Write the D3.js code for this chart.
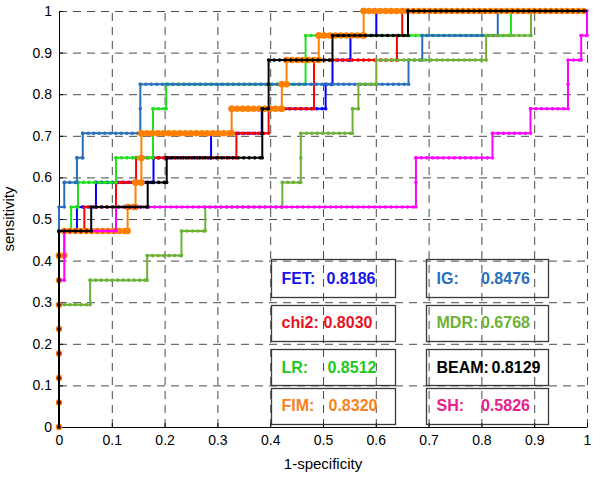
<!DOCTYPE html>
<html><head><meta charset="utf-8">
<script src="https://cdn.jsdelivr.net/npm/d3@7"></script>
<style>body{margin:0;background:#fff}</style>
</head><body><svg id="c" width="600" height="477"></svg>
<script>
// ---------- data ----------
const methods = ["FET", "IG", "chi2", "MDR", "LR", "BEAM", "FIM", "SH"];
const aucValues = ["0.8186", "0.8476", "0.8030", "0.6768", "0.8512", "0.8129", "0.8320", "0.5826"];

const fetFpr = [0, 0, 0.034, 0.034, 0.07, 0.07, 0.179, 0.179, 0.288, 0.288, 0.384, 0.384, 0.505, 0.505, 0.518, 0.518, 0.552, 0.552, 0.601, 0.601, 1];
const fetTpr = [0, 0.471, 0.471, 0.529, 0.529, 0.588, 0.588, 0.647, 0.647, 0.706, 0.706, 0.765, 0.765, 0.824, 0.824, 0.882, 0.882, 0.941, 0.941, 1, 1];

const igFpr = [0, 0, 0.01, 0.01, 0.034, 0.034, 0.045, 0.045, 0.154, 0.154, 0.662, 0.662, 0.688, 0.688, 0.831, 0.831, 1];
const igTpr = [0, 0.529, 0.529, 0.588, 0.588, 0.647, 0.647, 0.706, 0.706, 0.824, 0.824, 0.882, 0.882, 0.941, 0.941, 1, 1];

const chi2Fpr = [0, 0, 0.048, 0.048, 0.108, 0.108, 0.146, 0.146, 0.336, 0.336, 0.397, 0.397, 0.483, 0.483, 0.64, 0.64, 0.65, 0.65, 1];
const chi2Tpr = [0, 0.471, 0.471, 0.529, 0.529, 0.588, 0.588, 0.647, 0.647, 0.706, 0.706, 0.765, 0.765, 0.882, 0.882, 0.941, 0.941, 1, 1];

const mdrFpr = [0, 0, 0.059, 0.059, 0.167, 0.167, 0.232, 0.232, 0.277, 0.277, 0.423, 0.423, 0.458, 0.458, 0.556, 0.556, 0.567, 0.567, 0.601, 0.601, 0.809, 0.809, 0.894, 0.894, 1];
const mdrTpr = [0, 0.294, 0.294, 0.353, 0.353, 0.412, 0.412, 0.471, 0.471, 0.529, 0.529, 0.588, 0.588, 0.706, 0.706, 0.765, 0.765, 0.824, 0.824, 0.882, 0.882, 0.941, 0.941, 1, 1];

const lrFpr = [0, 0, 0.023, 0.023, 0.036, 0.036, 0.108, 0.108, 0.178, 0.178, 0.203, 0.203, 0.467, 0.467, 0.856, 0.856, 1];
const lrTpr = [0, 0.471, 0.471, 0.529, 0.529, 0.588, 0.588, 0.647, 0.647, 0.765, 0.765, 0.824, 0.824, 0.941, 0.941, 1, 1];

const beamFpr = [0, 0, 0.061, 0.061, 0.168, 0.168, 0.204, 0.204, 0.385, 0.385, 0.397, 0.397, 0.518, 0.518, 0.661, 0.661, 1];
const beamTpr = [0, 0.471, 0.471, 0.529, 0.529, 0.588, 0.588, 0.647, 0.647, 0.765, 0.765, 0.882, 0.882, 0.941, 0.941, 1, 1];

const fimFpr = [0, 0, 0.01, 0.01, 0.13, 0.13, 0.145, 0.145, 0.156, 0.156, 0.327, 0.327, 0.422, 0.422, 0.431, 0.431, 0.492, 0.492, 0.577, 0.577, 1];
const fimTpr = [0, 0.412, 0.412, 0.471, 0.471, 0.529, 0.529, 0.588, 0.588, 0.706, 0.706, 0.765, 0.765, 0.824, 0.824, 0.882, 0.882, 0.941, 0.941, 1, 1];

const shFpr = [0, 0, 0.01, 0.01, 0.108, 0.108, 0.676, 0.676, 0.821, 0.821, 0.893, 0.893, 0.964, 0.964, 0.989, 0.989, 1, 1];
const shTpr = [0, 0.353, 0.353, 0.471, 0.471, 0.529, 0.529, 0.647, 0.647, 0.706, 0.706, 0.765, 0.765, 0.882, 0.882, 0.941, 0.941, 1];

const xTickValues = [0, 0.1, 0.2, 0.3, 0.4, 0.5, 0.6, 0.7, 0.8, 0.9, 1];
const xTickLabels = ["0", "0.1", "0.2", "0.3", "0.4", "0.5", "0.6", "0.7", "0.8", "0.9", "1"];
const yTickValues = [0, 0.1, 0.2, 0.3, 0.4, 0.5, 0.6, 0.7, 0.8, 0.9, 1];
const yTickLabels = ["0", "0.1", "0.2", "0.3", "0.4", "0.5", "0.6", "0.7", "0.8", "0.9", "1"];
const xTitle = "1-specificity";
const yTitle = "sensitivity";

// ---------- styles ----------
const lineColors = {FET: "#0000ff", IG: "#2a6fbe", chi2: "#ff0000", MDR: "#6db234", LR: "#1fe01f", BEAM: "#000000", FIM: "#ff8000", SH: "#ff00ff"};
const textColors = {FET: "#1414e6", IG: "#2a6fbe", chi2: "#e8141e", MDR: "#6db234", LR: "#1ec81e", BEAM: "#000000", FIM: "#f7821e", SH: "#ec1c8c"};

const series = {
  FET: [fetFpr, fetTpr], IG: [igFpr, igTpr], chi2: [chi2Fpr, chi2Tpr], MDR: [mdrFpr, mdrTpr],
  LR: [lrFpr, lrTpr], BEAM: [beamFpr, beamTpr], FIM: [fimFpr, fimTpr], SH: [shFpr, shTpr]
};
const drawOrder = ["FET", "chi2", "LR", "IG", "MDR", "FIM", "SH", "BEAM"];

const W = 600, H = 477;
const m = {left: 59, right: 13, top: 11, bottom: 50};
const iw = W - m.left - m.right, ih = H - m.top - m.bottom;

const svg = d3.select("#c");
const g = svg.append("g").attr("transform", `translate(${m.left},${m.top})`);
const x = d3.scaleLinear().domain([0, 1]).range([0, iw]);
const y = d3.scaleLinear().domain([0, 1]).range([ih, 0]);
const font = "'Liberation Sans', Arial, sans-serif";

// grid
const gridStyle = s => s.attr("stroke", "#4a4a4a").attr("stroke-width", 1).attr("stroke-dasharray", "8,6").attr("fill", "none");
g.append("g").selectAll("line").data(xTickValues.filter(v => v > 0)).join("line")
  .attr("x1", d => x(d) + 0.5).attr("x2", d => x(d) + 0.5).attr("y1", y(0)).attr("y2", y(1))
  .call(gridStyle);
g.append("g").selectAll("line").data(yTickValues.filter(v => v > 0)).join("line")
  .attr("y1", d => y(d) + 0.5).attr("y2", d => y(d) + 0.5).attr("x1", x(0)).attr("x2", x(1))
  .call(gridStyle);

// axes
const xAxis = d3.axisBottom(x).tickValues(xTickValues).tickFormat((d, i) => xTickLabels[i]).tickSizeInner(-4).tickSizeOuter(0).tickPadding(8);
const yAxis = d3.axisLeft(y).tickValues(yTickValues).tickFormat((d, i) => yTickLabels[i]).tickSizeInner(-4).tickSizeOuter(0).tickPadding(7);
const gx = g.append("g").attr("transform", `translate(0,${ih})`).call(xAxis);
const gy = g.append("g").call(yAxis);
[gx, gy].forEach(a => {
  a.select(".domain").attr("stroke", "#000").attr("stroke-width", 1);
  a.selectAll(".tick line").attr("stroke", "#000");
  a.selectAll("text").attr("font-family", font).attr("font-size", 14).attr("fill", "#000");
});

// curves
const lineGen = d3.line().x(d => x(d[0])).y(d => y(d[1]));
function segments(pts, horizontal) {
  const out = [];
  for (let i = 1; i < pts.length; i++) {
    const a = pts[i - 1], b = pts[i];
    if (horizontal ? (a[1] === b[1] && a[0] !== b[0]) : (a[0] === b[0] && a[1] !== b[1])) out.push([a, b]);
  }
  return out;
}
const curves = g.append("g");
const hStep = x(1 / 96) - x(0);
const vStep = y(0) - y(1 / 17);
drawOrder.forEach(name => {
  const [fx, ty] = series[name];
  const pts = fx.map((v, i) => [v, ty[i]]);
  const col = lineColors[name];
  const big = name === "FIM";
  const cg = curves.append("g");
  cg.append("path").attr("d", lineGen(pts)).attr("fill", "none").attr("stroke", col).attr("stroke-width", 2);
  const dotW = big ? 6.5 : 3.6;
  cg.selectAll("path.h").data(segments(pts, true)).join("path").attr("class", "h")
    .attr("d", d => lineGen(d)).attr("fill", "none").attr("stroke", col)
    .attr("stroke-width", dotW).attr("stroke-linecap", "round").attr("stroke-dasharray", `0 ${hStep}`);
  cg.selectAll("path.v").data(segments(pts, false)).join("path").attr("class", "v")
    .attr("d", d => lineGen(d)).attr("fill", "none").attr("stroke", col)
    .attr("stroke-width", dotW).attr("stroke-linecap", "round").attr("stroke-dasharray", `0 ${vStep}`);
});

// axis titles
svg.append("text").attr("x", m.left + iw / 2).attr("y", 469).attr("text-anchor", "middle")
  .attr("font-family", font).attr("font-size", 15).text(xTitle);
svg.append("text").attr("transform", `translate(14,${m.top + ih / 2}) rotate(-90)`).attr("text-anchor", "middle")
  .attr("font-family", font).attr("font-size", 15).text(yTitle);

// AUC boxes (two columns, four rows)
const colX = [271.5, 426.5];
const colW = [124, 122];
const rowY = [259.5, 305.5, 349.5, 388.5];
const rowH = [38, 36, 36, 36];
const baseY = [283.5, 327.5, 372.5, 411];
const labelDx = 10;
const valueDx = {FET: 55, chi2: 52, LR: 56, FIM: 57, IG: 54.5, MDR: 54.5, BEAM: 65, SH: 54.5};
const boxG = svg.append("g");
methods.forEach((name, i) => {
  const c = i % 2, r = Math.floor(i / 2);
  boxG.append("rect").attr("x", colX[c]).attr("y", rowY[r]).attr("width", colW[c]).attr("height", rowH[r])
    .attr("fill", "none").attr("stroke", "#3a3a3a").attr("stroke-width", 1.3);
  boxG.append("text").attr("x", colX[c] + labelDx).attr("y", baseY[r])
    .attr("font-family", font).attr("font-size", 16).attr("font-weight", "bold")
    .attr("fill", textColors[name]).text(name + ":");
  boxG.append("text").attr("x", colX[c] + valueDx[name]).attr("y", baseY[r])
    .attr("font-family", font).attr("font-size", 16).attr("font-weight", "bold")
    .attr("fill", textColors[name]).text(aucValues[i]);
});
</script>
</body></html>
